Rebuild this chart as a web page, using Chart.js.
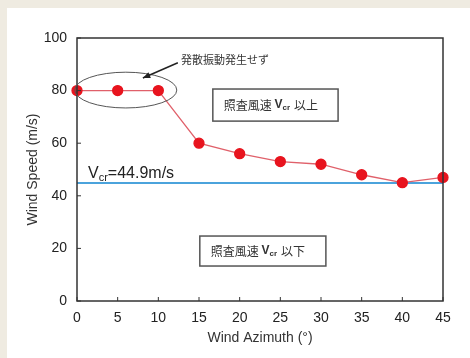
<!DOCTYPE html>
<html>
<head>
<meta charset="utf-8">
<script src="https://cdn.jsdelivr.net/npm/chart.js@4.4.1/dist/chart.umd.min.js"></script>
<style>
html,body{margin:0;padding:0;background:#efebe1;}
#panel{position:absolute;left:7px;top:8px;width:463px;height:350px;background:#fff;}
#c{display:block;}
</style>
</head>
<body>
<div id="panel"><canvas id="c" width="463" height="350"></canvas></div>
<script>
const azimuth = [0,5,10,15,20,25,30,35,40,45];
const speed = [80,80,80,60,56,53,52,48,45,47];
const vcr = 44.9;
const xTicks = [0,5,10,15,20,25,30,35,40,45];
const yTicks = [0,20,40,60,80,100];

const JP = '"Noto Sans CJK JP", sans-serif';
const LAT = '"Liberation Sans", Arial, sans-serif';

// frame, inward ticks and the notes
const notes = {
  id:'notes',
  afterDraw(chart){
    const {ctx, chartArea:a, scales:{x,y}} = chart;
    const px=v=>x.getPixelForValue(v), py=v=>y.getPixelForValue(v);
    ctx.save();
    ctx.strokeStyle='#333';ctx.lineWidth=1.5;
    ctx.strokeRect(a.left,a.top,a.right-a.left,a.bottom-a.top);
    ctx.lineWidth=1;
    xTicks.forEach(v=>{ctx.beginPath();ctx.moveTo(px(v),a.bottom);ctx.lineTo(px(v),a.bottom-4);ctx.stroke();});
    yTicks.forEach(v=>{ctx.beginPath();ctx.moveTo(a.left,py(v));ctx.lineTo(a.left+4,py(v));ctx.stroke();});

    // ellipse round the first three points
    ctx.strokeStyle='#555';ctx.lineWidth=1;
    ctx.beginPath();
    ctx.ellipse(px(6.0),py(80.2),px(6.27)-px(0),py(0)-py(6.8),0,0,Math.PI*2);
    ctx.stroke();

    // arrow
    const tx=px(12.4),ty=py(90.6),hx=px(8.1),hy=py(84.8);
    ctx.strokeStyle='#222';ctx.lineWidth=1.5;
    ctx.beginPath();ctx.moveTo(tx,ty);ctx.lineTo(hx,hy);ctx.stroke();
    const ang=Math.atan2(hy-ty,hx-tx);
    ctx.fillStyle='#222';
    ctx.beginPath();
    ctx.moveTo(hx,hy);
    ctx.lineTo(hx-8*Math.cos(ang-0.4),hy-8*Math.sin(ang-0.4));
    ctx.lineTo(hx-8*Math.cos(ang+0.4),hy-8*Math.sin(ang+0.4));
    ctx.closePath();ctx.fill();

    ctx.fillStyle='#333';
    ctx.font='11px '+JP;
    ctx.textBaseline='alphabetic';
    ctx.fillText('発散振動発生せず',px(12.8),py(90.6)+1);

    // boxes
    const box=(x0,x1,y0,y1,label)=>{
      const l=px(x0),r=px(x1),t=py(y0),b=py(y1);
      ctx.fillStyle='#fff';ctx.fillRect(l,t,r-l,b-t);
      ctx.strokeStyle='#555';ctx.lineWidth=1.5;ctx.strokeRect(l,t,r-l,b-t);
      ctx.fillStyle='#333';ctx.textBaseline='middle';
      let cx=l+11;const cy=(t+b)/2;
      ctx.font='12px '+JP;ctx.fillText('照査風速 ',cx,cy);cx+=ctx.measureText('照査風速 ').width;
      ctx.font='bold 12px '+LAT;ctx.fillText('V',cx,cy);cx+=ctx.measureText('V').width;
      ctx.font='bold 8px '+LAT;ctx.fillText('cr',cx,cy+3);cx+=ctx.measureText('cr').width+4;
      ctx.font='12px '+JP;ctx.fillText(label,cx,cy);
    };
    box(16.7,32.1,80.6,68.4,'以上');
    box(15.1,30.6,24.7,13.3,'以下');

    // Vcr label
    ctx.fillStyle='#222';ctx.textBaseline='alphabetic';
    let vx=px(1.35);const vy=py(46.6);
    ctx.font='16px '+LAT;ctx.fillText('V',vx,vy);vx+=ctx.measureText('V').width;
    ctx.font='11px '+LAT;ctx.fillText('cr',vx,vy+3);vx+=ctx.measureText('cr').width;
    ctx.font='16px '+LAT;ctx.fillText('=44.9m/s',vx,vy);
    ctx.restore();
  }
};

new Chart('c',{
  type:'scatter',
  data:{
    datasets:[
      {data:[{x:0,y:vcr},{x:45,y:vcr}],showLine:true,borderColor:'#4ba3dc',borderWidth:2,pointRadius:0,order:2},
      {data:azimuth.map((a,i)=>({x:a,y:speed[i]})),showLine:true,borderColor:'#e0606a',borderWidth:1.3,
       pointRadius:5,pointBackgroundColor:'#e8141e',pointBorderColor:'#e8141e',clip:false,order:1}
    ]
  },
  options:{
    responsive:false,animation:false,
    layout:{padding:{top:30,right:27,left:16,bottom:0}},
    plugins:{legend:{display:false},tooltip:{enabled:false}},
    scales:{
      x:{type:'linear',min:0,max:45,
        afterBuildTicks:s=>{s.ticks=xTicks.map(v=>({value:v}));},
        afterFit:s=>{s.height=57;},
        grid:{display:false,drawTicks:false},border:{display:false},
        ticks:{color:'#222',font:{family:LAT,size:14},padding:9},
        title:{display:true,text:'Wind Azimuth (°)',color:'#333',font:{family:LAT,size:14},padding:{top:0,bottom:11}}},
      y:{min:0,max:100,
        afterBuildTicks:s=>{s.ticks=yTicks.map(v=>({value:v}));},
        afterFit:s=>{s.width=54;},
        grid:{display:false,drawTicks:false},border:{display:false},
        ticks:{color:'#222',font:{family:LAT,size:14},padding:10},
        title:{display:true,text:'Wind Speed (m/s)',color:'#333',font:{family:LAT,size:14},padding:{top:2,bottom:0}}}
    }
  },
  plugins:[notes]
});
</script>
</body>
</html>
